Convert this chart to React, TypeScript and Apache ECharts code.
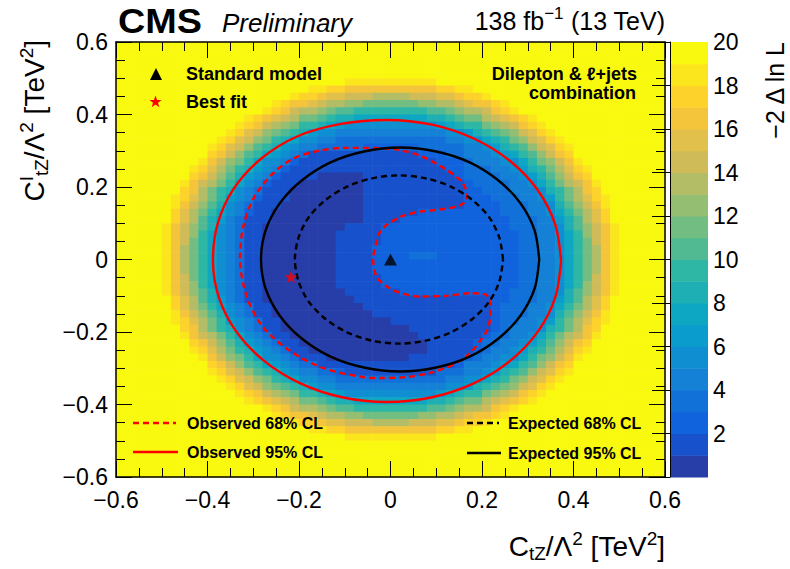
import React, { useEffect, useRef } from 'react';
import * as echarts from 'echarts';

const FONT = '"Liberation Sans", Arial, Helvetica, sans-serif';

// ---- axes -----------------------------------------------------------------
const X_RANGE = [-0.6, 0.6];
const Y_RANGE = [-0.6, 0.6];
const AXIS_STEP = 0.2;
const SCAN_BIN = 0.02;

// ---- z scale (-2 Delta ln L) ---------------------------------------------
const Z_BAND_LOW_EDGES = [0, 1, 2, 3, 4, 5, 6, 7, 8, 9, 10, 11, 12, 13, 14, 15, 16, 17, 18, 19];
const Z_MAX = 20;
const Z_LABEL_STEP = 2;
const BAND_CODES = '0123456789ABCDEFGHIJ';
const BAND_COLORS = [
  '#273da8', '#1751cb', '#1063dc', '#1271d9', '#1480d6',
  '#0f8ed1', '#099ccc', '#0da7c3', '#1dafb4', '#2db7a4',
  '#51ba92', '#72bd81', '#94be72', '#b2bd66', '#d0bb59',
  '#e1c04b', '#f4c53b', '#fdd22b', '#fbe61d', '#f9f90f',
];

// ---- likelihood scan: one row per y bin (top -> bottom), band index per x bin,
// run-length written as "<band>[:count]"
const SCAN_ROWS = [
  'J:60',
  'J:60',
  'J:60',
  'J:60',
  'J:60',
  'J:25 I:10 J:25',
  'J:21 I:2 H:2 G:10 H:2 I:2 J:21',
  'J:19 I H:2 G F:2 E:3 D:4 E:3 F:2 G H:2 I J:19',
  'J:17 I H G:2 F E D:2 C:2 B:6 C:2 D:2 E F G:2 H I J:17',
  'J:16 I H G E D:2 C B A:2 9:8 A:2 B C D:2 E G H I J:16',
  'J:14 I H G F E D B:2 A 9 8:2 7:8 8:2 9 A B:2 D E F G H I J:14',
  'J:13 I H G E D C B 9:2 8 7 6 5:10 6 7 8 9:2 B C D E G H I J:13',
  'J:12 I H F E C B A 9 8 6 5:2 4:12 5:2 6 8 9 A B C E F H I J:12',
  'J:11 I H F E C B 9 8 7 5:2 4:2 3:12 4:2 5:2 7 8 9 B C E F H I J:11',
  'J:10 I H F E C A 9 8 6 5 4:2 3:5 2:6 3:5 4:2 5 6 8 9 A C E F H I J:10',
  'J:10 H G E C A 9 7 6 5 4 3 1:12 2:3 3:2 4:2 4 5 6 7 9 A C E G H J:10',
  'J:9 I G E C B 9 7 5:2 4 2 1:15 2:3 3 4:2 4 5:2 7 9 B C E G I J:9',
  'J:8 I H F D B 9 8 6 5 4 2 1:17 2:2 3:3 4 4 5 6 8 9 B D F H I J:8',
  'J:8 H G E C A 8 6 5 4 2 1:4 0:5 1:10 2 3:4 4 4 5 6 8 A C E G H J:8',
  'J:7 I G E D B 9 7 5 4 2 1:3 0:7 1:11 2 3:4 4 4 5 7 9 B D E G I J:7',
  'J:7 H G D B 9 8 5 4 3 1:3 0:8 1:11 2:2 3:3 4:2 4 5 8 9 B D G H J:7',
  'J:6 I H F D B 9 6 5 4 2 1:3 0:8 1:11 2:3 3:3 4 4 5 6 9 B D F H I J:6',
  'J:6 I G E C A 8 5 4 3 1:3 0:9 1:11 2:4 3:3 4 4 5 8 A C E G I J:6',
  'J:6 H F D B 9 7 5 4 2 1:2 0:10 1:6 2:9 3:3 4 4 5 7 9 B D F H J:6',
  'J:6 H F D A 8 6 4 3 1:3 0:10 1:4 2:12 3:3 4 4 6 8 A D F H J:6',
  'J:5 I G E C A 8 5 4 3 1:2 0:9 1:4 2:14 3:3 4 4 5 8 A C E G I J:5',
  'J:5 I G E C 9 7 5 4 3 1:2 0:8 1:5 2:15 3:2 4 4 5 7 9 C E G I J:5',
  'J:5 I G E B 9 7 5 4 3 1:2 0:8 1:5 2:15 3:2 4 4 5 7 9 B E G I J:5',
  'J:5 I G D B 9 7 5 4 3 1:2 0:8 1:4 2:16 3:2 4 4 5 7 9 B D G I J:5',
  'J:5 I G D B 9 7 5 4 3 1:2 0:8 1:4 2:4 3:3 2:9 3:2 4 4 5 7 9 B D G I J:5',
  'J:5 I G D B 9 7 5 4 3 1:2 0:8 1:4 2:16 3:2 4 4 5 7 9 B D G I J:5',
  'J:5 I G D B 9 7 5 4 3 1:2 0:8 1:4 2:16 3:2 4 4 5 7 9 B D G I J:5',
  'J:5 I G E B 9 7 5 4 3 1:2 0:8 1:5 2:15 3:2 4 4 5 7 9 B E G I J:5',
  'J:5 I G E C 9 7 5 4 3 1:2 0:8 1:5 2:15 3:2 4 4 5 7 9 C E G I J:5',
  'J:5 I G E C A 8 5 4 3 1:2 0:9 1:6 2:12 3:3 4 4 5 8 A C E G I J:5',
  'J:6 H F D A 8 6 4 3 1:2 0:10 1:15 2:2 3:3 4 4 6 8 A D F H J:6',
  'J:6 H F D B 9 7 5 4 3 1:2 0:10 1:14 2 3:3 4 4 5 7 9 B D F H J:6',
  'J:6 I G E C A 8 5 4 3 1:2 0:11 1:13 2 3:3 4 4 5 8 A C E G I J:6',
  'J:6 I H F D B 9 6 5 4 3 1:2 0:12 1:11 2 3:2 4 4 5 6 9 B D F H I J:6',
  'J:7 H G D B 9 8 5 4 3 1:2 0:14 1:9 2 3 4:2 4 5 8 9 B D G H J:7',
  'J:7 I G E D B 9 7 5 4 3 1:2 0:14 1:7 2 3:2 4 4 5 7 9 B D E G I J:7',
  'J:8 H G E C A 8 6 5 4 3 1:2 0:14 1:5 2 3:2 4 4 5 6 8 A C E G H J:8',
  'J:8 I H F D B 9 8 6 5 4 3 1:2 0:13 1:5 2 3 4 4 5 6 8 9 B D F H I J:8',
  'J:9 I G E C B 9 7 5:2 4 3 1:3 0:9 1:6 2 3 4 4 5:2 7 9 B C E G I J:9',
  'J:10 H G E C A 9 7 6 5 4 3:2 1:15 2 4:2 4 5 6 7 9 A C E G H J:10',
  'J:10 I H F E C A 9 8 6 5 4:2 3:2 2 1:10 3:3 4:2 5 6 8 9 A C E F H I J:10',
  'J:11 I H F E C B 9 8 7 5:2 4:2 3:12 4:2 5:2 7 8 9 B C E F H I J:11',
  'J:12 I H F E C B A 9 8 6 5:2 4:12 5:2 6 8 9 A B C E F H I J:12',
  'J:13 I H G E D C B 9:2 8 7 6 5:10 6 7 8 9:2 B C D E G H I J:13',
  'J:14 I H G F E D B:2 A 9 8:2 7:8 8:2 9 A B:2 D E F G H I J:14',
  'J:16 I H G E D:2 C B A:2 9:8 A:2 B C D:2 E G H I J:16',
  'J:17 I H G:2 F E D:2 C:2 B:6 C:2 D:2 E F G:2 H I J:17',
  'J:19 I H:2 G F:2 E:3 D:4 E:3 F:2 G H:2 I J:19',
  'J:21 I:2 H:2 G:10 H:2 I:2 J:21',
  'J:25 I:10 J:25',
  'J:60',
  'J:60',
  'J:60',
  'J:60',
  'J:60',
];

// ---- contours (C_tZ, C^I_tZ) -----------------------------------------------
const OBS_68 = [
  [-0.038, 0.308], [0.021, 0.302], [0.071, 0.283], [0.123, 0.247], [0.156, 0.214],
  [0.167, 0.18], [0.163, 0.159], [0.145, 0.146], [0.102, 0.137], [0.058, 0.131],
  [0.021, 0.117], [-0.008, 0.096], [-0.023, 0.076], [-0.031, 0.046], [-0.038, 0.0],
  [-0.031, -0.046], [-0.013, -0.07], [0.014, -0.089], [0.064, -0.102], [0.123, -0.1],
  [0.174, -0.093], [0.208, -0.097], [0.219, -0.118], [0.218, -0.159], [0.212, -0.194],
  [0.196, -0.224], [0.174, -0.258], [0.137, -0.29], [0.086, -0.313], [0.036, -0.324],
  [-0.023, -0.327], [-0.062, -0.324], [-0.148, -0.299], [-0.22, -0.252], [-0.279, -0.186],
  [-0.314, -0.103], [-0.329, 0.0], [-0.322, 0.09], [-0.298, 0.172], [-0.258, 0.236],
  [-0.213, 0.278], [-0.157, 0.3], [-0.1, 0.308], [-0.038, 0.308],
];
const OBS_95 = [
  [0.373, -0.004], [0.36, 0.097], [0.322, 0.191], [0.262, 0.271], [0.183, 0.333],
  [0.091, 0.372], [-0.008, 0.385], [-0.108, 0.374], [-0.203, 0.34], [-0.283, 0.278],
  [-0.343, 0.195], [-0.378, 0.098], [-0.388, -0.004], [-0.375, -0.105], [-0.337, -0.199],
  [-0.277, -0.279], [-0.198, -0.341], [-0.106, -0.38], [-0.008, -0.393], [0.091, -0.38],
  [0.183, -0.341], [0.262, -0.279], [0.322, -0.199], [0.36, -0.105], [0.373, -0.004],
];
const EXP_68 = [
  [0.246, 0.0], [0.238, 0.06], [0.216, 0.116], [0.179, 0.164], [0.132, 0.201],
  [0.077, 0.224], [0.019, 0.232], [-0.04, 0.224], [-0.095, 0.201], [-0.142, 0.164],
  [-0.179, 0.116], [-0.201, 0.06], [-0.209, 0.0], [-0.201, -0.06], [-0.179, -0.116],
  [-0.142, -0.164], [-0.095, -0.201], [-0.04, -0.224], [0.019, -0.232], [0.077, -0.224],
  [0.132, -0.201], [0.179, -0.164], [0.216, -0.116], [0.238, -0.06], [0.246, 0.0],
];
const EXP_95 = [
  [0.325, 0.0], [0.315, 0.08], [0.284, 0.155], [0.236, 0.218], [0.173, 0.268],
  [0.1, 0.298], [0.021, 0.309], [-0.058, 0.298], [-0.131, 0.268], [-0.194, 0.218],
  [-0.242, 0.155], [-0.273, 0.08], [-0.283, 0.0], [-0.273, -0.08], [-0.242, -0.155],
  [-0.194, -0.218], [-0.131, -0.268], [-0.058, -0.298], [0.021, -0.309], [0.1, -0.298],
  [0.173, -0.268], [0.236, -0.218], [0.284, -0.155], [0.315, -0.08], [0.325, 0.0],
];
const SM_POINT = [0, 0];
const BEST_FIT = [-0.2175, -0.048];

const STAR_PTS = [
  [0, -6.5], [1.53, -2.1], [6.18, -2.01], [2.47, 0.8], [3.82, 5.26],
  [0, 2.6], [-3.82, 5.26], [-2.47, 0.8], [-6.18, -2.01], [-1.53, -2.1],
];
const STAR_PATH = 'path://M' + STAR_PTS.map((p) => p[0] + ',' + p[1]).join('L') + 'Z';

function decodeRow(rle: string): number[] {
  const out: number[] = [];
  rle.trim().split(/\s+/).forEach((tok) => {
    const [c, n] = tok.split(':');
    const band = BAND_CODES.indexOf(c);
    const count = n ? parseInt(n, 10) : 1;
    for (let k = 0; k < count; k++) out.push(band);
  });
  return out;
}

const fmtTick = (v: number) => {
  if (Math.abs(v) < 1e-9) return '0';
  const s = Math.abs(v).toFixed(1);
  return v < 0 ? '\u2212' + s : s;
};

const PLOT = { left: 116, top: 42, width: 549, height: 435 };
const CBAR = { left: 670, top: 42, width: 38, height: 435 };

function buildOption() {
  const nx = Math.round((X_RANGE[1] - X_RANGE[0]) / SCAN_BIN);
  const heat: number[][] = [];
  SCAN_ROWS.forEach((row, j) => {
    const bands = decodeRow(row);
    const y = Y_RANGE[1] - (j + 0.5) * SCAN_BIN;
    for (let i = 0; i < nx; i++) {
      const b = bands[i] === undefined ? 19 : bands[i];
      heat.push([X_RANGE[0] + (i + 0.5) * SCAN_BIN, y, b]);
    }
  });

  const black = '#000000';
  const red = '#ff0000';

  const mainAxisCommon = (isX: boolean, position: string, labels: boolean) => ({
    type: 'value',
    gridIndex: 0,
    position,
    min: isX ? X_RANGE[0] : Y_RANGE[0],
    max: isX ? X_RANGE[1] : Y_RANGE[1],
    interval: AXIS_STEP,
    z: 10,
    axisLine: { show: true, onZero: false, lineStyle: { color: black, width: 1.5 } },
    axisTick: { show: true, inside: true, length: 16, lineStyle: { color: black, width: 1 } },
    minorTick: { show: true, splitNumber: 4, length: 9, lineStyle: { color: black, width: 1 } },
    splitLine: { show: false },
    minorSplitLine: { show: false },
    axisLabel: {
      show: labels,
      formatter: fmtTick,
      color: black,
      fontFamily: FONT,
      fontSize: 23,
      margin: isX ? 11 : 8,
    },
  });

  const richBase = (size: number, small: number, lh: number) => ({
    b: { fontFamily: FONT, fontSize: size, lineHeight: lh, verticalAlign: 'middle', fill: black, color: black },
    sup: { fontFamily: FONT, fontSize: small, lineHeight: small, verticalAlign: 'top', fill: black, color: black },
    sub: { fontFamily: FONT, fontSize: small, lineHeight: small, verticalAlign: 'bottom', fill: black, color: black },
  });

  const text = (x: number, y: number, t: string, font: string, align = 'left', extra: any = {}) => ({
    type: 'text',
    x,
    y,
    z: 100,
    ...extra,
    style: { text: t, font, fill: black, align, verticalAlign: 'middle' },
  });

  const hline = (x1: number, x2: number, y: number, color: string, dash: boolean) => ({
    type: 'line',
    z: 100,
    shape: { x1, y1: y, x2, y2: y },
    style: { stroke: color, lineWidth: 2.4, lineDash: dash ? [6, 4] : null },
  });

  const bold18 = `bold 18px ${FONT}`;
  const bold16 = `bold 16px ${FONT}`;

  const graphics: any[] = [
    text(118, 21, 'CMS', `bold 35px ${FONT}`, 'left', { scaleX: 1.08 }),
    text(222, 23, 'Preliminary', `italic 26px ${FONT}`),
    {
      type: 'text', x: 665, y: 21, z: 100,
      style: {
        text: '{b|138 fb}{sup|\u22121}{b| (13 TeV)}',
        rich: richBase(25, 17, 32), align: 'right', verticalAlign: 'middle', fill: black,
      },
    },
    {
      type: 'text', x: 34, y: 40, z: 100, rotation: Math.PI / 2,
      style: {
        text: '{b|C}{sup|I}{sub|tZ}{b|/\u039b}{sup|2}{b| [TeV}{sup|2}{b|]}',
        rich: richBase(28, 19, 34), align: 'right', verticalAlign: 'middle', fill: black,
      },
    },
    {
      type: 'text', x: 665, y: 546, z: 100,
      style: {
        text: '{b|C}{sub|tZ}{b|/\u039b}{sup|2}{b| [TeV}{sup|2}{b|]}',
        rich: richBase(28, 19, 34), align: 'right', verticalAlign: 'middle', fill: black,
      },
    },
    text(775, 42, '\u22122 \u0394 ln L', `25px ${FONT}`, 'right', { rotation: Math.PI / 2 }),
    {
      type: 'polygon', z: 100,
      shape: { points: [[150, 80], [162, 80], [156, 68]] },
      style: { fill: black },
    },
    text(186, 74, 'Standard model', bold18),
    {
      type: 'polygon', z: 100, x: 155.5, y: 102,
      shape: { points: STAR_PTS },
      style: { fill: red },
    },
    text(186, 102, 'Best fit', bold18),
    text(637, 74, 'Dilepton & \u2113+jets', bold18, 'right'),
    text(636, 93, 'combination', bold18, 'right'),
    hline(133, 176, 423, red, true),
    text(187, 423, 'Observed 68% CL', bold16),
    hline(133, 178, 452, red, false),
    text(187, 452, 'Observed 95% CL', bold16),
    hline(467, 499, 423, black, true),
    text(508, 423, 'Expected 68% CL', bold16),
    hline(467, 501, 453, black, false),
    text(508, 453, 'Expected 95% CL', bold16),
  ];

  const contour = (data: number[][], color: string, dashed: boolean) => ({
    type: 'line',
    xAxisIndex: 0,
    yAxisIndex: 0,
    data,
    smooth: 0.3,
    symbol: 'none',
    showSymbol: false,
    silent: true,
    z: 5,
    lineStyle: { color, width: 2.4, type: dashed ? [6, 4] : 'solid' },
  });

  return {
    animation: false,
    backgroundColor: '#ffffff',
    grid: [
      { left: PLOT.left, top: PLOT.top, width: PLOT.width, height: PLOT.height, containLabel: false },
      { left: CBAR.left, top: CBAR.top, width: CBAR.width, height: CBAR.height, containLabel: false },
    ],
    xAxis: [
      mainAxisCommon(true, 'bottom', true),
      mainAxisCommon(true, 'top', false),
      { type: 'value', gridIndex: 1, min: 0, max: 1, show: false },
    ],
    yAxis: [
      mainAxisCommon(false, 'left', true),
      mainAxisCommon(false, 'right', false),
      {
        type: 'value', gridIndex: 1, position: 'right', min: 0, max: Z_MAX, interval: Z_LABEL_STEP, z: 10,
        axisLine: { show: true, lineStyle: { color: black, width: 1 } },
        axisTick: { show: true, inside: true, length: 18, lineStyle: { color: black, width: 1 } },
        minorTick: { show: false },
        splitLine: { show: false },
        axisLabel: {
          formatter: (v: number) => (v === 0 ? '' : String(v)),
          color: black, fontFamily: FONT, fontSize: 23, margin: 5,
        },
      },
    ],
    graphic: { elements: graphics },
    series: [
      {
        type: 'custom',
        coordinateSystem: 'cartesian2d',
        xAxisIndex: 0,
        yAxisIndex: 0,
        data: heat,
        encode: { x: 0, y: 1 },
        clip: true,
        silent: true,
        z: 1,
        renderItem: (params: any, api: any) => {
          const x = api.value(0);
          const y = api.value(1);
          const b = api.value(2);
          const p1 = api.coord([x - SCAN_BIN / 2, y + SCAN_BIN / 2]);
          const p2 = api.coord([x + SCAN_BIN / 2, y - SCAN_BIN / 2]);
          return {
            type: 'rect',
            shape: { x: p1[0], y: p1[1], width: p2[0] - p1[0] + 0.6, height: p2[1] - p1[1] + 0.6 },
            style: { fill: BAND_COLORS[b] },
          };
        },
      },
      contour(OBS_95, red, false),
      contour(OBS_68, red, true),
      contour(EXP_95, black, false),
      contour(EXP_68, black, true),
      {
        type: 'scatter', xAxisIndex: 0, yAxisIndex: 0, data: [SM_POINT], symbol: 'triangle',
        symbolSize: [13, 12], itemStyle: { color: black }, z: 6, silent: true,
      },
      {
        type: 'scatter', xAxisIndex: 0, yAxisIndex: 0, data: [BEST_FIT], symbol: STAR_PATH,
        symbolSize: [13, 12.4], itemStyle: { color: red }, z: 6, silent: true,
      },
      {
        type: 'custom',
        coordinateSystem: 'cartesian2d',
        xAxisIndex: 2,
        yAxisIndex: 2,
        data: Z_BAND_LOW_EDGES.map((v) => [0, v]),
        encode: { x: 0, y: 1 },
        silent: true,
        z: 1,
        renderItem: (params: any, api: any) => {
          const v = api.value(1);
          const a = api.coord([0, v + 1]);
          const b = api.coord([1, v]);
          return {
            type: 'rect',
            shape: { x: a[0], y: a[1], width: b[0] - a[0], height: b[1] - a[1] + 0.5 },
            style: { fill: BAND_COLORS[v] },
          };
        },
      },
    ],
  };
}

export default function App() {
  const ref = useRef<HTMLDivElement>(null);
  useEffect(() => {
    if (!ref.current) return;
    const chart = echarts.init(ref.current, undefined, { renderer: 'svg' });
    chart.setOption(buildOption() as any);
    return () => chart.dispose();
  }, []);
  return (
    <div
      ref={ref}
      style={{ position: 'fixed', left: 0, top: 0, width: 790, height: 569, background: '#ffffff' }}
    />
  );
}
